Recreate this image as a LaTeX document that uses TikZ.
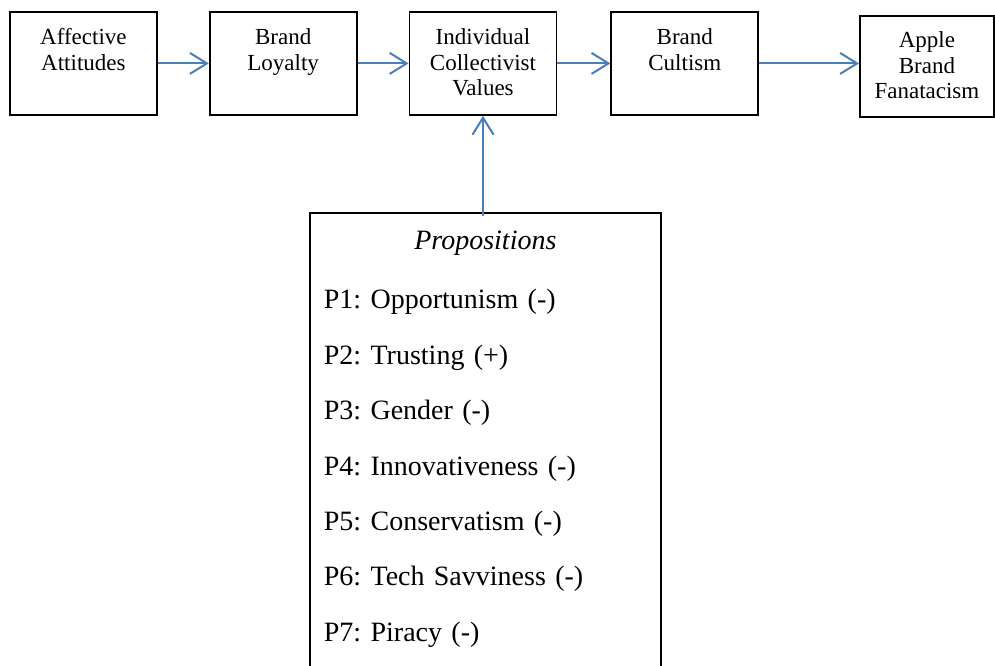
\documentclass[tikz,border=0pt]{standalone}
\usepackage{fontspec}
\setmainfont{Liberation Serif}
\usepackage{tikz}
\usetikzlibrary{positioning,arrows.meta}
\definecolor{cblue}{HTML}{4A7EBB}
\frenchspacing
\tikzset{
 box/.style={rectangle, draw=black, line width=1.8pt, inner xsep=2pt, inner ysep=0pt,
 align=center, text width=143pt, text height=33pt, text depth=70pt,
 font=\fontsize{23}{25.5}\selectfont},
 propbox/.style={rectangle, draw=black, line width=1.8pt, inner xsep=14pt, inner ysep=0pt,
 align=left, text width=323pt, text height=37pt, text depth=480pt,
 font=\fontsize{28}{55.4}\selectfont},
 fl/.style={-{Straight Barb[length=17pt,width=21pt]}, draw=cblue, line width=2pt},
}
\begin{document}
\begin{tikzpicture}[x=1pt, y=-1pt, node distance=51pt]
 \clip (0,0) rectangle (995,665);
 % chain on top
 \node[box, anchor=north west] (AA) at (9,11) {Affective\\Attitudes};
 \node[box, right=51pt of AA] (BL) {Brand\\Loyalty};
 \node[box, right=51pt of BL] (IC) {Individual\\Collectivist\\Values};
 \node[box, right=53pt of IC] (BC) {Brand\\Cultism};
 \node[box, anchor=north west, text width=130pt, text height=32pt, text depth=69pt]
  (AF) at (859,15) {Apple\\Brand\\Fanatacism};
 % propositions below
 \node[propbox, anchor=north west] (P) at (309,212) {%
  {\centering\itshape Propositions\par}\vspace{3.6pt}%
  P1: Opportunism (-)\\
  P2: Trusting (+)\\
  P3: Gender (-)\\
  P4: Innovativeness (-)\\
  P5: Conservatism (-)\\
  P6: Tech Savviness (-)\\
  P7: Piracy (-)};

 \draw[fl] (AA) -- (BL);
 \draw[fl] (BL) -- (IC);
 \draw[fl] (IC) -- (BC);
 \draw[fl] (BC.east) -- (BC.east -| AF.west);
 \draw[fl] ([yshift=-4pt]P.north -| IC.south) -- (IC.south);
\end{tikzpicture}
\end{document}
